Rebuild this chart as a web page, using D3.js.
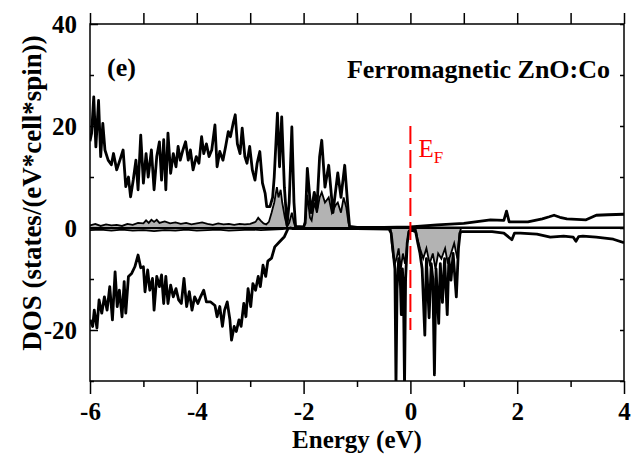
<!DOCTYPE html>
<html>
<head>
<meta charset="utf-8">
<script src="https://cdn.jsdelivr.net/npm/d3@7"></script>
<style>
  body { margin: 0; background: #fff; }
  text { font-family: "Liberation Serif", "Times New Roman", serif; }
</style>
</head>
<body>
<div id="chart"></div>
<script>
// total DOS, spin up  [energy eV, states]
const upTotal = [
  [-6.0, 17], [-5.97, 18.6], [-5.93, 25.7], [-5.89, 15.9], [-5.84, 25], [-5.80, 14], [-5.76, 20.5],
  [-5.72, 15.3], [-5.66, 13.3], [-5.60, 12.4], [-5.56, 14.6], [-5.50, 11.4], [-5.44, 13.3],
  [-5.38, 15.3], [-5.33, 8.1], [-5.28, 10], [-5.24, 6.1], [-5.19, 9.4], [-5.14, 13.3], [-5.10, 7.5],
  [-5.05, 18.2], [-5.00, 8.8], [-4.95, 14.6], [-4.91, 10], [-4.85, 15.3], [-4.80, 7.5], [-4.75, 14],
  [-4.70, 16.9], [-4.66, 9.4], [-4.62, 17.3], [-4.58, 7.5], [-4.54, 18.6], [-4.49, 10.7],
  [-4.44, 14.6], [-4.39, 12], [-4.35, 16], [-4.31, 13.3], [-4.26, 15.3], [-4.21, 16.9],
  [-4.16, 13.3], [-4.12, 15.3], [-4.07, 11.4], [-4.01, 14], [-3.96, 12.7], [-3.91, 17.9],
  [-3.87, 14.6], [-3.82, 16.5], [-3.77, 14], [-3.72, 15.3], [-3.66, 20.2], [-3.62, 12], [-3.57, 15],
  [-3.51, 13.3], [-3.46, 16], [-3.41, 18.9], [-3.37, 17.9], [-3.32, 20.5], [-3.28, 22.2],
  [-3.24, 16.5], [-3.19, 14.6], [-3.15, 19.6], [-3.10, 14], [-3.06, 12.7], [-3.01, 16],
  [-2.96, 11.4], [-2.91, 9.4], [-2.87, 12.7], [-2.82, 15], [-2.77, 8.8], [-2.72, 6.8], [-2.69, 4.2],
  [-2.63, 4.2], [-2.58, 6], [-2.55, 10], [-2.49, 22.5], [-2.45, 12], [-2.41, 21.8], [-2.36, 8],
  [-2.31, 0.5], [-2.27, 5], [-2.22, 19.8], [-2.18, 5], [-2.15, 0.3], [-2.0, 0.2], [-1.97, 1],
  [-1.93, 11.7], [-1.86, 3], [-1.80, 7], [-1.75, 4], [-1.70, 14], [-1.66, 17.2], [-1.60, 8],
  [-1.53, 12.3], [-1.45, 3], [-1.36, 10.8], [-1.30, 6], [-1.23, 12.3], [-1.17, 4], [-1.14, 0.3],
  [-1.0, 0.1], [-0.5, 0.1], [0, 0.2], [0.5, 0.6], [1.0, 0.9], [1.5, 1.6], [1.75, 1.5], [1.8, 3.3],
  [1.85, 1.2], [2.2, 1.2], [2.47, 1.8], [2.6, 2.2], [2.69, 2.5], [2.8, 2.1], [2.93, 1.8],
  [3.29, 1.6], [3.48, 2.5], [3.7, 2.6], [4.0, 2.7]
];

// total DOS, spin down
const downTotal = [
  [-6.0, -18], [-5.95, -19.3], [-5.92, -16.1], [-5.87, -19.6], [-5.83, -14.1], [-5.78, -16.7],
  [-5.73, -13.5], [-5.68, -16.1], [-5.63, -11.5], [-5.58, -18], [-5.53, -8.6], [-5.49, -15.4],
  [-5.45, -12.2], [-5.40, -17.4], [-5.36, -10.5], [-5.33, -16.7], [-5.28, -9.5], [-5.22, -8.9],
  [-5.16, -7.6], [-5.10, -5.3], [-5.05, -7.8], [-5.00, -7.6], [-4.97, -12.5], [-4.92, -8.2],
  [-4.88, -12.2], [-4.83, -9.9], [-4.80, -16.1], [-4.75, -9.5], [-4.70, -11.5], [-4.66, -9.2],
  [-4.62, -14.8], [-4.58, -9.5], [-4.54, -14.8], [-4.49, -11.2], [-4.44, -13.5], [-4.39, -11.9],
  [-4.34, -14.1], [-4.29, -14.8], [-4.24, -9.9], [-4.19, -15.4], [-4.14, -12.5], [-4.09, -16.1],
  [-4.04, -13.5], [-3.98, -14.8], [-3.93, -13.5], [-3.87, -12.2], [-3.82, -14.5], [-3.74, -14.5],
  [-3.66, -15.2], [-3.62, -17.4], [-3.57, -15.4], [-3.52, -19.3], [-3.48, -16.1], [-3.43, -14.5],
  [-3.38, -18], [-3.35, -22], [-3.30, -19.3], [-3.26, -20.3], [-3.21, -18], [-3.17, -19.3],
  [-3.12, -14.8], [-3.08, -17.4], [-3.04, -11.9], [-2.99, -15.4], [-2.95, -10.9], [-2.90, -12.2],
  [-2.85, -9.5], [-2.81, -11.5], [-2.76, -7.3], [-2.71, -9.5], [-2.67, -6.5], [-2.60, -5.9],
  [-2.54, -3.7], [-2.45, -2.7], [-2.36, -1.7], [-2.29, -0.1], [-2.25, 0], [-2.2, -0.1],
  [-1.0, -0.1], [-0.4, -0.2], [-0.36, -1], [-0.32, -5], [-0.29, -8], [-0.27, -31], [-0.25, -12],
  [-0.22, -6], [-0.19, -10], [-0.17, -17], [-0.15, -8], [-0.13, -12], [-0.11, -31], [-0.09, -10],
  [-0.06, -3], [-0.03, -0.8], [0, -0.5], [0.05, -0.5], [0.1, -0.8], [0.14, -3], [0.18, -5],
  [0.22, -8], [0.27, -21], [0.3, -6], [0.35, -17.6], [0.39, -7], [0.42, -10], [0.45, -28.8],
  [0.48, -8], [0.53, -18.7], [0.56, -7], [0.6, -14.6], [0.64, -6], [0.69, -17], [0.72, -6],
  [0.76, -10.2], [0.8, -5], [0.86, -13.5], [0.9, -4], [0.93, -1], [0.96, -0.7], [1.53, -0.7],
  [1.75, -1.0], [1.9, -2.3], [1.95, -1.0], [2.06, -1.0], [2.37, -1.2], [2.62, -1.8], [2.87, -1.6],
  [3.05, -1.8], [3.1, -2.6], [3.15, -1.7], [3.23, -1.6], [3.48, -1.8], [3.8, -2.2], [4.0, -2.9]
];

// Co partial DOS, spin up (grey)
const upCo = [
  [-6.0, 0.5], [-5.9, 0.8], [-5.8, 0.4], [-5.7, 0.7], [-5.6, 0.5], [-5.5, 0.6], [-5.4, 0.4],
  [-5.3, 0.8], [-5.2, 0.6], [-5.1, 1.0], [-5.0, 0.9], [-4.95, 1.5], [-4.9, 1.0], [-4.85, 1.6],
  [-4.8, 1.2], [-4.75, 1.6], [-4.7, 1.0], [-4.6, 1.3], [-4.5, 0.9], [-4.4, 1.1], [-4.3, 0.8],
  [-4.2, 1.0], [-4.1, 0.7], [-4.0, 0.9], [-3.9, 1.1], [-3.8, 0.8], [-3.7, 0.6], [-3.6, 0.9],
  [-3.5, 0.7], [-3.4, 0.8], [-3.3, 0.6], [-3.2, 0.8], [-3.1, 0.7], [-3.0, 0.8], [-2.9, 1.2],
  [-2.85, 2.0], [-2.8, 1.4], [-2.75, 0.9], [-2.7, 0.7], [-2.65, 1.2], [-2.6, 3], [-2.55, 5],
  [-2.5, 8], [-2.47, 6], [-2.43, 7.5], [-2.4, 5], [-2.35, 2], [-2.31, 0.3], [-2.27, 1], [-2.22, 3],
  [-2.18, 1], [-2.15, 0.1], [-2.0, 0.1], [-1.96, 2], [-1.93, 6.5], [-1.88, 2], [-1.85, 1.5],
  [-1.8, 5], [-1.75, 3], [-1.7, 6], [-1.66, 7], [-1.6, 5], [-1.53, 6], [-1.47, 3], [-1.4, 4.5],
  [-1.36, 5], [-1.3, 3], [-1.25, 6], [-1.2, 4], [-1.16, 1], [-1.13, 0.1], [0, 0.1], [4.0, 0.1]
];

// Co partial DOS, spin down (grey)
const downCo = [
  [-6.0, -0.4], [-5.8, -0.3], [-5.6, -0.5], [-5.4, -0.3], [-5.2, -0.5], [-5.0, -0.4], [-4.8, -0.6],
  [-4.6, -0.4], [-4.4, -0.5], [-4.2, -0.3], [-4.0, -0.5], [-3.8, -0.4], [-3.6, -0.3], [-3.4, -0.5],
  [-3.2, -0.4], [-3.0, -0.3], [-2.8, -0.4], [-2.6, -0.3], [-2.4, -0.2], [-2.2, 0], [-0.37, 0],
  [-0.35, -3], [-0.32, -5.6], [-0.29, -7], [-0.26, -6], [-0.22, -4], [-0.18, -8], [-0.14, -5],
  [-0.1, -7], [-0.06, -3], [-0.03, -0.5], [0.1, -0.3], [0.13, -2], [0.18, -4], [0.24, -6],
  [0.3, -4], [0.36, -7], [0.42, -5], [0.47, -8], [0.52, -5], [0.58, -6], [0.65, -4], [0.7, -7],
  [0.76, -5], [0.82, -3], [0.88, -6], [0.92, -1], [0.95, 0], [4.0, 0]
];

const xMajor = [-6, -4, -2, 0, 2, 4];
const xMinor = [-5, -3, -1, 1, 3];
const yMajor = [-20, 0, 20, 40];
const yMinor = [-30, -10, 10, 30];
const fermi = { e: 0, from: 20, to: -20 };

const W = 634, H = 462;
const mLeft = 90, mRight = 624, mTop = 24, mBottom = 381;

const svg = d3.select("#chart").append("svg")
    .attr("width", W)
    .attr("height", H);

const x = d3.scaleLinear().domain([-6, 4]).range([mLeft, mRight]);
const y = d3.scaleLinear().domain([-30, 40]).range([mBottom, mTop]);

svg.append("clipPath").attr("id", "clip")
  .append("rect")
    .attr("x", mLeft).attr("y", mTop)
    .attr("width", mRight - mLeft).attr("height", mBottom - mTop);

const plot = svg.append("g").attr("clip-path", "url(#clip)");

const line = d3.line().x(d => x(d[0])).y(d => y(d[1]));
const area = d3.area().x(d => x(d[0])).y0(y(0)).y1(d => y(d[1]));

// grey partial DOS
[upCo, downCo].forEach(s => {
  plot.append("path").datum(s)
      .attr("d", area)
      .attr("fill", "#b3b3b3");
  plot.append("path").datum(s)
      .attr("d", line)
      .attr("fill", "none")
      .attr("stroke", "#000")
      .attr("stroke-width", 1.8);
});

// zero line
plot.append("line")
    .attr("x1", mLeft).attr("x2", mRight)
    .attr("y1", y(0)).attr("y2", y(0))
    .attr("stroke", "#000")
    .attr("stroke-width", 2);

// total DOS
[upTotal, downTotal].forEach(s => {
  plot.append("path").datum(s)
      .attr("d", line)
      .attr("fill", "none")
      .attr("stroke", "#000")
      .attr("stroke-width", 2.8)
      .attr("stroke-linejoin", "round");
});

// Fermi level
svg.append("line")
    .attr("x1", x(fermi.e)).attr("x2", x(fermi.e))
    .attr("y1", y(fermi.from)).attr("y2", y(fermi.to))
    .attr("stroke", "#ff0000")
    .attr("stroke-width", 2)
    .attr("stroke-dasharray", "18,6");

const ef = svg.append("text")
    .attr("x", x(fermi.e) + 8)
    .attr("y", 157)
    .attr("fill", "#ff0000")
    .style("font-size", "25px");
ef.append("tspan").text("E");
ef.append("tspan").attr("dy", 6).style("font-size", "17px").text("F");

// frame
svg.append("rect")
    .attr("x", mLeft).attr("y", mTop)
    .attr("width", mRight - mLeft).attr("height", mBottom - mTop)
    .attr("fill", "none")
    .attr("stroke", "#000")
    .attr("stroke-width", 1.5);

// axes (hyphen minus as in the original)
const fmt = d => String(d);
svg.append("g").attr("transform", `translate(0,${mBottom})`)
    .call(d3.axisBottom(x).tickValues(xMajor).tickSize(13).tickPadding(8).tickFormat(fmt));
svg.append("g").attr("transform", `translate(0,${mBottom})`)
    .call(d3.axisBottom(x).tickValues(xMinor).tickSize(6).tickFormat(""));
svg.append("g").attr("transform", `translate(0,${mTop})`)
    .call(d3.axisTop(x).tickValues(xMajor.concat(xMinor)).tickSize(11).tickFormat(""));
svg.append("g").attr("transform", `translate(${mLeft},0)`)
    .call(d3.axisLeft(y).tickValues(yMajor).tickSize(-8).tickPadding(13).tickFormat(fmt));
svg.append("g").attr("transform", `translate(${mLeft},0)`)
    .call(d3.axisLeft(y).tickValues(yMinor).tickSize(-4).tickFormat(""));
svg.append("g").attr("transform", `translate(${mRight},0)`)
    .call(d3.axisRight(y).tickValues(yMajor.concat(yMinor)).tickSize(-4).tickFormat(""));

svg.selectAll(".domain").remove();
svg.selectAll(".tick line").attr("stroke", "#000").attr("stroke-width", 1.5);
svg.selectAll(".tick text")
    .attr("fill", "#000")
    .style("font-family", "'Liberation Serif', 'Times New Roman', serif")
    .style("font-size", "25px")
    .style("font-weight", "bold");

// labels
svg.append("text")
    .attr("x", (mLeft + mRight) / 2)
    .attr("y", 448)
    .attr("text-anchor", "middle")
    .style("font-size", "25px")
    .style("font-weight", "bold")
    .text("Energy (eV)");

svg.append("text")
    .attr("transform", "translate(41,193) rotate(-90)")
    .attr("text-anchor", "middle")
    .style("font-size", "27px")
    .style("font-weight", "bold")
    .text("DOS (states/(eV*cell*spin))");

svg.append("text")
    .attr("x", 107)
    .attr("y", 76)
    .style("font-size", "26px")
    .style("font-weight", "bold")
    .text("(e)");

svg.append("text")
    .attr("x", 610)
    .attr("y", 78)
    .attr("text-anchor", "end")
    .style("font-size", "26px")
    .style("font-weight", "bold")
    .text("Ferromagnetic ZnO:Co");
</script>
</body>
</html>
